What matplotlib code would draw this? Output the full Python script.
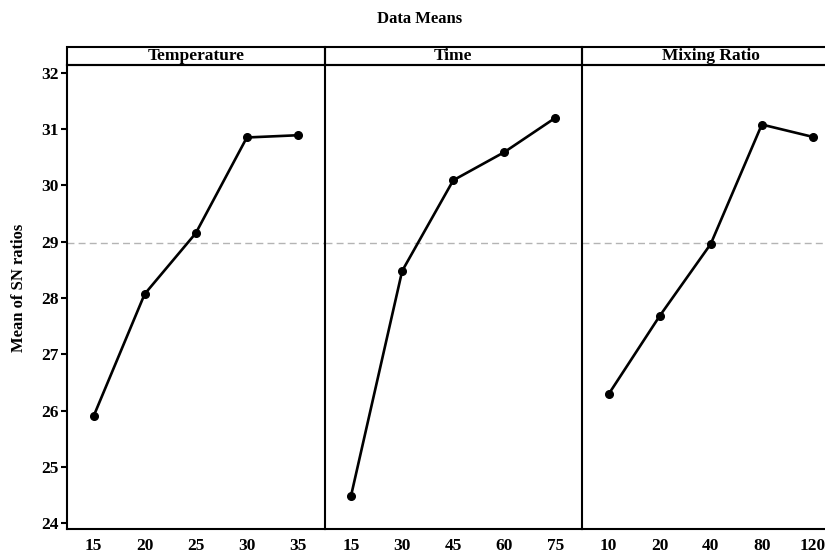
import matplotlib
matplotlib.use("Agg")
import matplotlib.pyplot as plt
from matplotlib.patches import Rectangle

# ---- data ----
factors = ["Temperature", "Time", "Mixing Ratio"]
temp_levels = ["15", "20", "25", "30", "35"]
temp_means = [25.90, 28.07, 29.15, 30.85, 30.89]
time_levels = ["15", "30", "45", "60", "75"]
time_means = [24.49, 28.48, 30.09, 30.59, 31.20]
mix_levels = ["10", "20", "40", "80", "120"]
mix_means = [26.29, 27.68, 28.96, 31.08, 30.86]
grand_mean = 28.97
y_ticks = [24, 25, 26, 27, 28, 29, 30, 31, 32]

levels = [temp_levels, time_levels, mix_levels]
means = [temp_means, time_means, mix_means]

FONT = "Liberation Serif"
W, H = 825, 554
fig = plt.figure(figsize=(W / 100, H / 100), dpi=100)

left_px, panel_w = 67, 257.5
top_px, bot_px = 65, 529.3
strip_h = 18
lw = 1.5

axes = []
for i in range(3):
    l = (left_px + i * panel_w) / W
    ax = fig.add_axes([l, 1 - bot_px / H, panel_w / W, (bot_px - top_px) / H])
    axes.append(ax)
    x = list(range(len(levels[i])))
    ax.axhline(grand_mean, color="#b4b4b4", lw=1.0, ls=(0, (5, 3)), zorder=1)
    ax.plot(x, means[i], color="black", lw=1.9, marker="o", ms=5.5, zorder=3)
    ax.set_xlim(-0.52, 4.52)
    ax.set_ylim(23.893, 32.137)
    ax.set_xticks(x)
    ax.set_xticklabels(levels[i], fontfamily=FONT, fontweight="bold", fontsize=12.5)
    ax.tick_params(axis="x", length=0, pad=6)
    for s in ["left", "bottom", "top", "right"]:
        ax.spines[s].set_linewidth(lw)
    ax.spines["right"].set_visible(i == 2)
    if i == 0:
        ax.set_yticks(y_ticks)
        ax.set_yticklabels([str(t) for t in y_ticks], fontfamily=FONT,
                           fontweight="bold", fontsize=12.5)
        ax.tick_params(axis="y", length=4, width=1.5, direction="out", pad=2)
    else:
        ax.set_yticks([])
    # strip header
    hfrac = strip_h / (bot_px - top_px)
    rect = Rectangle((0, 1), 1, hfrac, transform=ax.transAxes, fill=False,
                     lw=lw, edgecolor="black", clip_on=False)
    ax.add_patch(rect)
    ax.text(0.5, 1 + hfrac / 2, factors[i], transform=ax.transAxes,
            ha="center", va="center", fontfamily=FONT, fontweight="bold",
            fontsize=12.5)

fig.text(420 / W, 1 - 19 / H, "Data Means", ha="center", va="center",
         fontfamily=FONT, fontweight="bold", fontsize=12)
fig.text(19 / W, 1 - 288 / H, "Mean of SN ratios", ha="center", va="center",
         rotation=90, fontfamily=FONT, fontweight="bold", fontsize=12)

fig.savefig("out.png", dpi=100)
